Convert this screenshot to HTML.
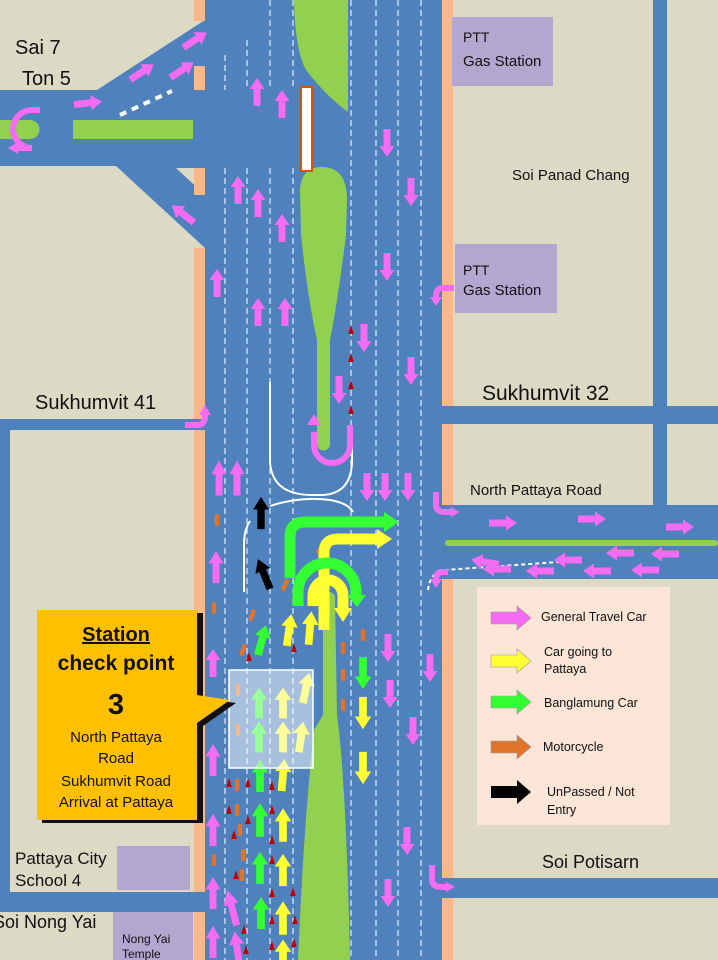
<!DOCTYPE html>
<html><head><meta charset="utf-8"><style>
html,body{margin:0;padding:0;width:718px;height:960px;overflow:hidden;background:#DCD9C5}
svg{display:block}
text{font-family:"Liberation Sans",sans-serif;fill:#111}
</style></head><body>
<svg width="718" height="960" viewBox="0 0 718 960" xmlns="http://www.w3.org/2000/svg">
<defs>
<path id="a" d="M-3.5,14 V-3 H-7.5 L0,-14 L7.5,-3 H3.5 V14 Z"/>
<path id="t" d="M0,-5 L2.8,4 H-2.8 Z"/>
<rect id="m" x="-2.2" y="-6" width="4.4" height="12" rx="1.5"/>
<path id="L" d="M0,-6 H26 V-12 L40,0 L26,12 V6 H0 Z"/>
</defs>
<rect width="718" height="960" fill="#DCD9C5"/>
<!-- right side roads -->
<rect x="653" y="0" width="14" height="506" fill="#4F81BD"/>
<rect x="442" y="406" width="276" height="18" fill="#4F81BD"/>
<rect x="442" y="505" width="276" height="74" fill="#4F81BD"/>
<rect x="445" y="540" width="273" height="6" rx="3" fill="#92D050"/>
<rect x="442" y="878" width="276" height="20" fill="#4F81BD"/>
<!-- left roads -->
<rect x="0" y="90" width="205" height="76" fill="#4F81BD"/>
<polygon points="97,90 205,20 205,90" fill="#4F81BD"/>
<polygon points="115,165 205,248 205,165" fill="#4F81BD"/>
<polygon points="176,168 205,168 205,195" fill="#DCD9C5"/>
<rect x="73" y="120" width="120" height="19" fill="#92D050"/>
<path d="M0,120 H30 A9.5,9.5 0 0 1 30,139 H0 Z" fill="#92D050"/>
<rect x="0" y="419" width="205" height="11" fill="#4F81BD"/>
<rect x="0" y="419" width="10" height="493" fill="#4F81BD"/>
<rect x="0" y="892" width="205" height="20" fill="#4F81BD"/>
<!-- main road -->
<rect x="205" y="0" width="237" height="960" fill="#4F81BD"/>
<!-- curbs -->
<g fill="#F7B98A">
<rect x="194" y="0" width="11" height="21"/>
<rect x="194" y="66" width="11" height="24"/>
<rect x="194" y="168" width="11" height="27"/>
<rect x="194" y="248" width="11" height="171"/>
<rect x="194" y="430" width="11" height="462"/>
<rect x="194" y="912" width="11" height="48"/>
<rect x="442" y="0" width="11" height="406"/>
<rect x="442" y="424" width="11" height="81"/>
<rect x="442" y="579" width="11" height="299"/>
<rect x="442" y="898" width="11" height="62"/>
</g>
<!-- lane dashes -->
<g stroke="#D6E4F5" stroke-width="1.3" stroke-dasharray="6,4" fill="none">
<path d="M225,55 V90 M225,168 V960"/>
<path d="M247,40 V90 M247,168 V960"/>
<path d="M270,0 V90 M270,168 V960"/>
<path d="M293,0 V90 M293,168 V960"/>
<path d="M351,0 V960 M376,0 V960 M398,0 V960 M421,0 V960"/>
</g>
<!-- medians -->
<path d="M294,0 H348 V112 Q326,96 306,70 Q295,50 294,0 Z" fill="#92D050"/>
<path d="M300,190 Q301,167 322,167 Q347,167 347,200 L346,235 Q338,300 330,340 V444 A6.5,6.5 0 0 1 317,444 V340 Q308,300 301,235 Z" fill="#92D050"/>
<path d="M323,598 A6,6 0 0 1 335,598 L337,715 Q346,780 350,960 H298 Q304,820 314,730 L323,715 Z" fill="#92D050"/>
<rect x="301" y="87" width="11" height="84" fill="#fff" stroke="#C55A11" stroke-width="2"/>
<!-- purple boxes -->
<g fill="#B4A7CF">
<rect x="452" y="17" width="101" height="69"/>
<rect x="455" y="244" width="102" height="69"/>
<rect x="117" y="846" width="73" height="44"/>
<rect x="113" y="912" width="80" height="48"/>
</g>
<rect x="477" y="587" width="193" height="238" fill="#FBE5D6"/>
<!-- white lines -->
<g stroke="#fff" stroke-width="2" fill="none">
<path d="M270,382 V462 Q272,494 310,495 H322 Q351,494 352,462 V425"/>
<path d="M270,506 Q300,496 330,500 Q348,503 353,512"/>
<path d="M250,521 Q244,530 244,545 V592"/>
</g>
<g stroke="#fff" stroke-width="4" stroke-dasharray="7,6" fill="none"><path d="M120,115 L172,91"/></g>
<g stroke="#fff" stroke-width="2" stroke-dasharray="4,3" fill="none"><path d="M428,590 Q430,572 445,570 L572,561"/></g>
<!-- pink arrows -->
<g fill="#F46CF2">
<use href="#a" transform="translate(257,92)"/>
<use href="#a" transform="translate(282,104)"/>
<use href="#a" transform="translate(238,190)"/>
<use href="#a" transform="translate(258,203)"/>
<use href="#a" transform="translate(282,228)"/>
<use href="#a" transform="translate(217,283)"/>
<use href="#a" transform="translate(258,312)"/>
<use href="#a" transform="translate(285,312)"/>
<use href="#a" transform="translate(219,478) scale(1,1.25)"/>
<use href="#a" transform="translate(237,478) scale(1,1.25)"/>
<use href="#a" transform="translate(216,567) scale(1,1.15)"/>
<use href="#a" transform="translate(213,663)"/>
<use href="#a" transform="translate(213,760) scale(1,1.15)"/>
<use href="#a" transform="translate(213,830) scale(1,1.15)"/>
<use href="#a" transform="translate(213,893) scale(1,1.15)"/>
<use href="#a" transform="translate(213,942) scale(1,1.15)"/>
<use href="#a" transform="translate(232,908) rotate(-15) scale(1,1.3)"/>
<use href="#a" transform="translate(237,948) rotate(-8) scale(1,1.2)"/>
<use href="#a" transform="translate(387,143) rotate(180)"/>
<use href="#a" transform="translate(411,192) rotate(180)"/>
<use href="#a" transform="translate(387,267) rotate(180)"/>
<use href="#a" transform="translate(364,338) rotate(180)"/>
<use href="#a" transform="translate(411,371) rotate(180)"/>
<use href="#a" transform="translate(339,390) rotate(180)"/>
<use href="#a" transform="translate(367,487) rotate(180)"/>
<use href="#a" transform="translate(385,487) rotate(180)"/>
<use href="#a" transform="translate(408,487) rotate(180)"/>
<use href="#a" transform="translate(388,648) rotate(180)"/>
<use href="#a" transform="translate(390,694) rotate(180)"/>
<use href="#a" transform="translate(413,731) rotate(180)"/>
<use href="#a" transform="translate(430,668) rotate(180)"/>
<use href="#a" transform="translate(407,841) rotate(180)"/>
<use href="#a" transform="translate(388,893) rotate(180)"/>
<use href="#a" transform="translate(195,40) rotate(57)"/>
<use href="#a" transform="translate(142,72) rotate(57)"/>
<use href="#a" transform="translate(182,70) rotate(57)"/>
<use href="#a" transform="translate(88,103) rotate(84)"/>
<use href="#a" transform="translate(183,214) rotate(-52)"/>
<use href="#a" transform="translate(503,523) rotate(90)"/>
<use href="#a" transform="translate(592,519) rotate(90)"/>
<use href="#a" transform="translate(680,527) rotate(90)"/>
<use href="#a" transform="translate(665,554) rotate(-90)"/>
<use href="#a" transform="translate(620,553) rotate(-90)"/>
<use href="#a" transform="translate(568,560) rotate(-90)"/>
<use href="#a" transform="translate(645,570) rotate(-90)"/>
<use href="#a" transform="translate(597,571) rotate(-90)"/>
<use href="#a" transform="translate(540,571) rotate(-90)"/>
<use href="#a" transform="translate(497,569) rotate(-90)"/>
<use href="#a" transform="translate(485,562) rotate(-80)"/>
</g>
<g fill="none" stroke="#F46CF2" stroke-width="6">
<path d="M40,110 H32 A19,19 0 0 0 32,148 H18"/>
<path d="M314,432 V445 A18,18 0 0 0 350,445 V425"/>
<path d="M185,425 H198 Q205,425 205,415"/>
<path d="M454,288 H442 Q436,288 436,298"/>
<path d="M436,492 V505 Q436,512 446,512 H452"/>
<path d="M448,572 H442 Q436,572 436,580"/>
<path d="M432,865 V880 Q432,887 442,887 H447"/>
</g>
<g fill="#F46CF2">
<path d="M307,425 L314,414 L321,425 Z"/>
<path d="M199,415 L205,405 L211,415 Z"/>
<path d="M430,297 L436,306 L442,297 Z"/>
<path d="M451,507 L460,512 L451,517 Z"/>
<path d="M430,579 L436,588 L442,579 Z"/>
<path d="M446,882 L455,887 L446,892 Z"/>
<path d="M18,142 L8,148 L18,154 Z"/>
</g>
<!-- motorcycles -->
<g fill="#E0742A">
<use href="#m" transform="translate(217,520)"/>
<use href="#m" transform="translate(214,608)"/>
<use href="#m" transform="translate(252,615) rotate(20)"/>
<use href="#m" transform="translate(285,585) rotate(25)"/>
<use href="#m" transform="translate(322,550) rotate(65)"/>
<use href="#m" transform="translate(243,650) rotate(20)"/>
<use href="#m" transform="translate(363,635)"/>
<use href="#m" transform="translate(343,648)"/>
<use href="#m" transform="translate(343,675)"/>
<use href="#m" transform="translate(343,705)"/>
<use href="#m" transform="translate(238,690)"/>
<use href="#m" transform="translate(238,730)"/>
<use href="#m" transform="translate(237,785)"/>
<use href="#m" transform="translate(237,810)"/>
<use href="#m" transform="translate(240,830)"/>
<use href="#m" transform="translate(243,855)"/>
<use href="#m" transform="translate(214,860)"/>
<use href="#m" transform="translate(242,875)"/>
</g>
<!-- red small -->
<g fill="#C00000">
<use href="#t" transform="translate(351,330)"/>
<use href="#t" transform="translate(351,358)"/>
<use href="#t" transform="translate(351,385)"/>
<use href="#t" transform="translate(351,410)"/>
<use href="#t" transform="translate(294,648)"/>
<use href="#t" transform="translate(249,657)"/>
<use href="#t" transform="translate(229,783)"/>
<use href="#t" transform="translate(229,810)"/>
<use href="#t" transform="translate(248,783)"/>
<use href="#t" transform="translate(248,820)"/>
<use href="#t" transform="translate(234,835)"/>
<use href="#t" transform="translate(236,875)"/>
<use href="#t" transform="translate(272,786)"/>
<use href="#t" transform="translate(272,810)"/>
<use href="#t" transform="translate(272,840)"/>
<use href="#t" transform="translate(272,860)"/>
<use href="#t" transform="translate(272,893)"/>
<use href="#t" transform="translate(272,920)"/>
<use href="#t" transform="translate(293,892)"/>
<use href="#t" transform="translate(295,920)"/>
<use href="#t" transform="translate(294,943)"/>
<use href="#t" transform="translate(244,930)"/>
<use href="#t" transform="translate(246,950)"/>
<use href="#t" transform="translate(272,946)"/>
</g>
<!-- green & yellow -->
<g fill="none" stroke-width="11">
<path d="M290,578 V537 Q290,522 305,522 H385" stroke="#33FF33"/>
<path d="M324,630 V553 Q324,539 338,539 H378" stroke="#FFFF33"/>
<path d="M298,606 V592 A29,29 0 0 1 356,592 V596" stroke="#33FF33"/>
<path d="M313,606 V596 A15,16 0 0 1 343,596 V608" stroke="#FFFF33"/>
</g>
<path d="M384,512 L399,522 L384,532 Z" fill="#33FF33"/>
<path d="M377,529 L392,539 L377,549 Z" fill="#FFFF33"/>
<path d="M347,595 L357,607 L366,595 Z" fill="#33FF33"/>
<path d="M334,608 L343,622 L352,608 Z" fill="#FFFF33"/>
<g fill="#33FF33">
<use href="#a" transform="translate(262,640) rotate(15) scale(1.1,1.1)"/>
<use href="#a" transform="translate(363,673) rotate(180) scale(1.1,1.15)"/>
<use href="#a" transform="translate(259,703) scale(1.1,1.1)"/>
<use href="#a" transform="translate(259,737) scale(1.1,1.1)"/>
<use href="#a" transform="translate(260,776) scale(1.1,1.15)"/>
<use href="#a" transform="translate(260,820) scale(1.1,1.2)"/>
<use href="#a" transform="translate(260,868) scale(1.1,1.15)"/>
<use href="#a" transform="translate(261,913) scale(1.1,1.15)"/>
</g>
<g fill="#FFFF33">
<use href="#a" transform="translate(289,630) rotate(8) scale(1.1,1.15)"/>
<use href="#a" transform="translate(310,628) rotate(5) scale(1.1,1.2)"/>
<use href="#a" transform="translate(306,688) rotate(12) scale(1.1,1.1)"/>
<use href="#a" transform="translate(283,703) scale(1.1,1.1)"/>
<use href="#a" transform="translate(283,737) scale(1.1,1.1)"/>
<use href="#a" transform="translate(301,737) rotate(8) scale(1.1,1.1)"/>
<use href="#a" transform="translate(283,775) rotate(5) scale(1.1,1.15)"/>
<use href="#a" transform="translate(283,825) scale(1.1,1.2)"/>
<use href="#a" transform="translate(283,870) scale(1.1,1.15)"/>
<use href="#a" transform="translate(283,918) scale(1.1,1.2)"/>
<use href="#a" transform="translate(283,955) scale(1.1,1.1)"/>
<use href="#a" transform="translate(363,713) rotate(180) scale(1.1,1.15)"/>
<use href="#a" transform="translate(363,768) rotate(180) scale(1.1,1.15)"/>
</g>
<!-- black -->
<g fill="#000">
<use href="#a" transform="translate(261,513) scale(1.05,1.15)"/>
<use href="#a" transform="translate(264,574) rotate(-22) scale(1.05,1.15)"/>
</g>
<!-- translucent box -->
<rect x="229" y="670" width="84" height="98" fill="#fff" fill-opacity="0.5" stroke="#fff" stroke-width="1.5"/>
<!-- callout -->
<polygon points="42,613 203,613 203,698 236,703 203,726 203,823 42,823" fill="#111"/>
<polygon points="37,610 197,610 197,695 230,700 197,723 197,820 37,820" fill="#FFC000"/>
<g text-anchor="middle">
<text x="116" y="641" font-size="20" font-weight="bold" text-decoration="underline">Station</text>
<text x="116" y="670" font-size="21" font-weight="bold">check point</text>
<text x="116" y="714" font-size="29" font-weight="bold">3</text>
<text x="116" y="742" font-size="15">North Pattaya</text>
<text x="116" y="763" font-size="15">Road</text>
<text x="116" y="786" font-size="15">Sukhumvit Road</text>
<text x="116" y="807" font-size="15">Arrival at Pattaya</text>
</g>
<!-- labels -->
<text x="15" y="54" font-size="20">Sai 7</text>
<text x="22" y="85" font-size="20">Ton 5</text>
<text x="35" y="409" font-size="20">Sukhumvit 41</text>
<text x="482" y="400" font-size="21">Sukhumvit 32</text>
<text x="470" y="495" font-size="15">North Pattaya Road</text>
<text x="512" y="180" font-size="15">Soi Panad Chang</text>
<text x="463" y="42" font-size="14">PTT</text>
<text x="463" y="66" font-size="15">Gas Station</text>
<text x="463" y="275" font-size="14">PTT</text>
<text x="463" y="295" font-size="15">Gas Station</text>
<text x="542" y="868" font-size="18">Soi Potisarn</text>
<text x="15" y="864" font-size="17">Pattaya City</text>
<text x="15" y="886" font-size="17">School 4</text>
<text x="-7" y="928" font-size="18">Soi Nong Yai</text>
<text x="122" y="943" font-size="12">Nong Yai</text>
<text x="122" y="958" font-size="12">Temple</text>
<!-- legend -->
<use href="#L" transform="translate(491,618)" fill="#F46CF2" stroke="#999" stroke-width="0.6"/>
<use href="#L" transform="translate(491,661)" fill="#FFFF33" stroke="#999" stroke-width="0.6"/>
<use href="#L" transform="translate(491,702)" fill="#33FF33" stroke="#999" stroke-width="0.6"/>
<use href="#L" transform="translate(491,747)" fill="#E0742A" stroke="#999" stroke-width="0.6"/>
<use href="#L" transform="translate(491,792)" fill="#000"/>
<g font-size="12.5">
<text x="541" y="621">General Travel Car</text>
<text x="544" y="656">Car going to</text>
<text x="544" y="673">Pattaya</text>
<text x="544" y="707">Banglamung Car</text>
<text x="543" y="751">Motorcycle</text>
<text x="547" y="796">UnPassed / Not</text>
<text x="547" y="814">Entry</text>
</g>
</svg>
</body></html>
